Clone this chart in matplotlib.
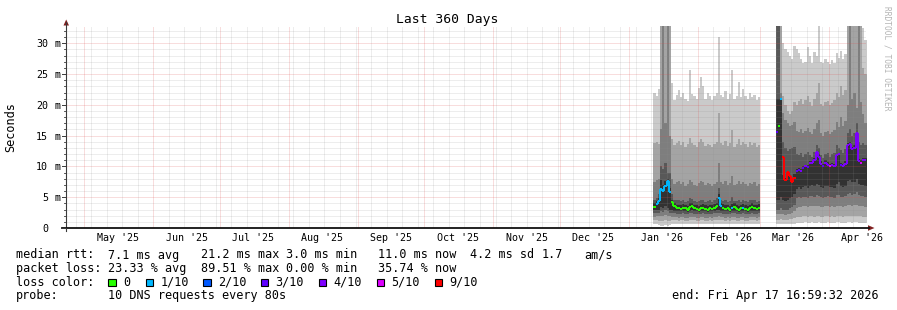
import matplotlib
matplotlib.use("Agg")
import matplotlib.pyplot as plt
import matplotlib.dates as mdates
import matplotlib.transforms as mtrans
from matplotlib.lines import Line2D
from matplotlib.patches import Polygon, Rectangle
from datetime import datetime, timedelta

# ---------------- data ----------------
t_start = datetime(2025, 4, 22, 16, 59, 32)
t_end = datetime(2026, 4, 17, 16, 59, 32)
y_max = 32.8  # ms

month_labels = ["May '25", "Jun '25", "Jul '25", "Aug '25", "Sep '25", "Oct '25",
                "Nov '25", "Dec '25", "Jan '26", "Feb '26", "Mar '26", "Apr '26"]
y_ticks = [0, 5, 10, 15, 20, 25, 30]

loss_keys = [0, 1, 2, 3, 4, 5, 9]
loss_labels = ["0", "1/10", "2/10", "3/10", "4/10", "5/10", "9/10"]
loss_colors = ["#26ff00", "#00b8ff", "#0059ff", "#5e00ff", "#7e00ff", "#dd00ff", "#ff0000"]

# block 1: daily values from 2026-01-12 to 2026-02-28 (ms)
b1_start = datetime(2026, 1, 12)
b1_median = [3.4, 3.9, 4.4, 6.4, 6.0, 6.9, 7.6, 5.8, 4.2, 3.6,
             3.3, 3.2, 3.1, 3.3, 3.2, 3.0, 3.4, 3.6, 3.2, 3.1,
             3.0, 3.2, 3.3, 3.1, 3.0, 3.2, 3.1, 3.3, 3.6, 4.8,
             3.5, 3.3, 3.1, 3.2, 3.0, 3.3, 3.4, 3.1, 3.0, 3.2,
             3.3, 3.1, 3.0, 3.2, 3.4, 3.2, 3.1, 3.3]
b1_loss = [0, 1, 1, 1, 1, 1, 1, 1, 0, 0,
           0, 0, 0, 0, 0, 0, 0, 0, 0, 0,
           0, 0, 0, 0, 0, 0, 0, 0, 0, 1,
           1, 0, 0, 0, 0, 1, 0, 0, 0, 0,
           1, 0, 0, 0, 0, 0, 0, 0]
b1_ping10 = [22.0, 21.5, 22.5, 40, 40, 40, 40, 40, 23.5, 20.8,
             21.6, 22.4, 21.2, 22.0, 21.0, 20.6, 25.6, 21.8, 21.4, 20.9,
             22.8, 24.5, 23.0, 21.0, 22.0, 21.4, 20.8, 21.5, 22.0, 31.0,
             21.6, 21.2, 22.3, 21.0, 21.8, 25.6, 20.9, 21.4, 23.7, 21.2,
             22.5, 21.4, 21.0, 22.0, 21.2, 21.6, 20.8, 21.2]
b1_ping9 = [13.8, 14.0, 13.6, 40, 40, 40, 40, 40, 14.5, 13.4,
            13.8, 14.2, 13.5, 13.9, 13.2, 13.6, 14.6, 13.8, 13.4, 13.2,
            13.9, 14.4, 14.0, 13.3, 13.7, 13.5, 13.1, 13.6, 14.0, 18.6,
            13.8, 13.4, 14.1, 13.3, 13.8, 15.9, 13.2, 13.6, 14.4, 13.5,
            14.0, 13.6, 13.2, 13.9, 13.4, 13.8, 13.1, 13.4]
b1_ping8 = [7.5, 7.8, 8.0, 16.0, 40, 17.0, 40, 15.0, 8.0, 7.2,
            7.4, 7.6, 7.1, 7.5, 6.9, 7.2, 7.8, 7.4, 7.0, 6.9,
            7.3, 7.7, 7.5, 7.0, 7.3, 7.1, 6.8, 7.2, 7.5, 10.5,
            7.4, 7.1, 7.6, 7.0, 7.3, 8.5, 7.0, 7.2, 7.6, 7.1,
            7.4, 7.2, 6.9, 7.3, 7.1, 7.4, 6.9, 7.1]
b1_ping7 = [4.6, 4.8, 5.5, 10.0, 9.5, 10.5, 9.0, 9.0, 5.5, 4.6,
            4.5, 4.6, 4.4, 4.6, 4.3, 4.4, 4.8, 4.7, 4.4, 4.3,
            4.4, 4.6, 4.6, 4.3, 4.4, 4.5, 4.3, 4.5, 4.8, 6.5,
            4.6, 4.4, 4.5, 4.3, 4.4, 5.0, 4.4, 4.4, 4.6, 4.3,
            4.6, 4.4, 4.3, 4.5, 4.6, 4.5, 4.3, 4.4]
b1_ping6 = [4.0, 4.4, 4.8, 7.8, 7.0, 7.6, 8.0, 6.5, 4.6, 4.0,
            3.8, 3.8, 3.7, 3.9, 3.7, 3.6, 4.0, 4.1, 3.8, 3.7,
            3.6, 3.8, 3.9, 3.7, 3.6, 3.8, 3.7, 3.9, 4.1, 5.5,
            4.0, 3.9, 3.7, 3.8, 3.6, 3.9, 4.0, 3.7, 3.6, 3.8,
            3.9, 3.7, 3.6, 3.8, 4.0, 3.8, 3.7, 3.9]
b1_ping5 = [2.9, 3.0, 3.0, 3.4, 3.2, 3.6, 3.2, 3.0, 2.9, 2.8,
            2.8, 2.7, 2.7, 2.8, 2.7, 2.6, 2.8, 2.9, 2.7, 2.7,
            2.6, 2.7, 2.8, 2.7, 2.6, 2.7, 2.7, 2.8, 2.9, 3.0,
            2.8, 2.8, 2.7, 2.7, 2.6, 2.8, 2.8, 2.7, 2.6, 2.7,
            2.8, 2.7, 2.6, 2.7, 2.8, 2.7, 2.7, 2.8]
b1_ping4 = [2.4, 2.5, 2.5, 2.8, 2.6, 2.9, 2.7, 2.5, 2.4, 2.4,
            2.3, 2.3, 2.3, 2.4, 2.3, 2.2, 2.4, 2.4, 2.3, 2.3,
            2.2, 2.3, 2.4, 2.3, 2.2, 2.3, 2.3, 2.4, 2.4, 2.5,
            2.4, 2.3, 2.3, 2.3, 2.2, 2.4, 2.4, 2.3, 2.2, 2.3,
            2.4, 2.3, 2.2, 2.3, 2.4, 2.3, 2.3, 2.4]
b1_ping3 = [1.8, 1.9, 1.9, 2.0, 1.9, 2.1, 2.0, 1.9, 1.8, 1.8,
            1.8, 1.7, 1.8, 1.8, 1.7, 1.7, 1.8, 1.8, 1.8, 1.7,
            1.7, 1.8, 1.8, 1.7, 1.7, 1.8, 1.7, 1.8, 1.8, 1.9,
            1.8, 1.8, 1.7, 1.8, 1.7, 1.8, 1.8, 1.7, 1.7, 1.8,
            1.8, 1.7, 1.7, 1.8, 1.8, 1.8, 1.7, 1.8]
b1_ping2 = [1.3, 1.3, 1.2, 1.2, 1.1, 1.3, 1.2, 1.2, 1.3, 1.3,
            1.3, 1.2, 1.3, 1.3, 1.2, 1.2, 1.3, 1.3, 1.3, 1.2,
            1.2, 1.3, 1.3, 1.2, 1.2, 1.3, 1.2, 1.3, 1.3, 1.3,
            1.3, 1.3, 1.2, 1.3, 1.2, 1.3, 1.3, 1.2, 1.2, 1.3,
            1.3, 1.2, 1.2, 1.3, 1.3, 1.3, 1.2, 1.3]
b1_ping1 = [0.6, 0.6, 0.5, 0.4, 0.4, 0.5, 0.4, 0.5, 0.6, 0.6,
            0.7, 0.6, 0.6, 0.7, 0.6, 0.6, 0.7, 0.6, 0.6, 0.6,
            0.6, 0.7, 0.6, 0.6, 0.6, 0.7, 0.6, 0.6, 0.7, 0.6,
            0.6, 0.7, 0.6, 0.6, 0.6, 0.7, 0.6, 0.6, 0.6, 0.7,
            0.6, 0.6, 0.7, 0.6, 0.6, 0.7, 0.6, 0.6]

# block 2: daily values from 2026-03-08 to 2026-04-17 (ms)
b2_start = datetime(2026, 3, 8)
b2_median = [15.6, 16.6, 21.0, 11.5, 7.8, 9.1, 8.4, 7.5, 8.2, 9.3,
             9.4, 9.2, 9.8, 10.0, 9.9, 10.5, 10.6, 11.0, 12.3, 11.6,
             10.4, 10.1, 10.6, 10.3, 10.0, 10.2, 10.0, 11.8, 12.0, 10.2,
             10.0, 10.4, 13.5, 13.6, 12.8, 13.0, 15.4, 10.8, 10.6, 11.0,
             11.0]
b2_loss = [3, 0, 1, 9, 9, 9, 9, 9, 9, 3,
           3, 4, 3, 4, 3, 4, 4, 4, 4, 4,
           4, 3, 4, 4, 5, 4, 4, 4, 4, 3,
           4, 4, 4, 4, 4, 4, 4, 4, 5, 4,
           4]
b2_ping10 = [40, 40, 40, 30.0, 29.0, 28.5, 28.0, 27.5, 29.5, 29.0,
             28.4, 27.4, 26.8, 27.0, 29.4, 28.0, 26.8, 28.6, 28.0, 40,
             27.0, 26.8, 27.4, 27.0, 26.6, 27.2, 26.8, 28.4, 27.6, 28.8,
             27.4, 28.2, 40, 40, 40, 40, 40, 40, 40, 32.5,
             30.5]
b2_ping9 = [40, 40, 40, 21.5, 20.0, 19.0, 18.5, 19.0, 20.5, 20.0,
            20.6, 21.0, 20.2, 20.8, 21.4, 20.4, 19.8, 21.0, 22.0, 23.5,
            20.2, 19.8, 20.4, 20.6, 19.9, 20.3, 20.8, 22.0, 21.2, 23.0,
            21.6, 22.4, 40, 40, 40, 40, 40, 40, 40, 26.0,
            25.0]
b2_ping8 = [40, 40, 22.0, 18.6, 17.5, 17.0, 16.5, 16.8, 17.2, 15.8,
            15.6, 16.0, 15.4, 15.8, 16.2, 15.6, 15.2, 16.0, 17.0, 17.5,
            15.4, 15.0, 15.6, 15.8, 15.2, 15.6, 15.9, 17.2, 16.4, 18.0,
            16.6, 17.4, 20.0, 40, 21.0, 22.0, 19.5, 40, 20.5, 18.5,
            17.0]
b2_ping7 = [40, 40, 21.0, 14.0, 13.0, 12.5, 12.8, 13.0, 13.2, 12.0,
            11.8, 12.2, 11.6, 12.0, 12.4, 11.8, 11.6, 12.4, 13.5, 13.0,
            11.8, 11.4, 12.0, 12.2, 11.6, 12.0, 12.2, 13.4, 13.0, 12.6,
            12.2, 12.8, 15.5, 16.0, 15.0, 15.5, 17.0, 14.0, 13.5, 13.8,
            13.5]
b2_ping6 = [21.0, 21.0, 21.0, 8.6, 8.2, 8.4, 8.6, 8.2, 8.8, 9.6,
            9.8, 9.6, 10.0, 10.3, 10.2, 10.8, 10.9, 11.3, 12.5, 12.0,
            10.8, 10.4, 11.0, 10.7, 10.4, 10.6, 10.4, 12.0, 12.2, 10.6,
            10.4, 10.8, 13.8, 14.0, 13.2, 13.4, 15.6, 11.2, 11.0, 11.4,
            11.4]
b2_ping5 = [4.5, 4.5, 5.0, 4.6, 4.4, 4.5, 4.8, 5.0, 5.5, 6.4,
            6.6, 6.4, 6.7, 6.8, 6.5, 6.9, 7.0, 6.8, 7.2, 7.0,
            6.6, 6.5, 6.8, 6.9, 6.6, 6.7, 6.5, 7.2, 7.4, 6.8,
            6.6, 6.9, 7.6, 7.8, 7.4, 7.5, 8.0, 7.2, 7.0, 7.0,
            6.9]
b2_ping4 = [3.0, 3.0, 3.2, 3.0, 2.9, 3.0, 3.2, 3.4, 3.8, 4.8,
            5.0, 4.9, 5.0, 5.1, 4.9, 5.2, 5.2, 5.0, 5.3, 5.2,
            5.0, 4.9, 5.1, 5.2, 5.0, 5.0, 4.9, 5.3, 5.4, 5.1,
            5.0, 5.2, 5.6, 5.7, 5.4, 5.5, 5.8, 5.3, 5.2, 5.2,
            5.1]
b2_ping3 = [2.2, 2.2, 2.3, 2.2, 2.1, 2.2, 2.3, 2.4, 2.7, 3.3,
            3.4, 3.4, 3.5, 3.5, 3.4, 3.6, 3.6, 3.5, 3.6, 3.5,
            3.4, 3.4, 3.5, 3.5, 3.4, 3.5, 3.4, 3.6, 3.6, 3.5,
            3.4, 3.5, 3.7, 3.8, 3.6, 3.7, 3.8, 3.5, 3.5, 3.5,
            3.4]
b2_ping2 = [1.3, 1.3, 1.4, 1.3, 1.3, 1.3, 1.4, 1.5, 1.6, 1.8,
            1.8, 1.8, 1.9, 1.9, 1.8, 1.9, 1.9, 1.8, 1.9, 1.9,
            1.8, 1.8, 1.9, 1.9, 1.8, 1.9, 1.8, 1.9, 2.0, 1.9,
            1.8, 1.9, 2.0, 2.0, 1.9, 2.0, 2.0, 1.9, 1.9, 1.8,
            1.8]
b2_ping1 = [0.6, 0.6, 0.6, 0.6, 0.6, 0.6, 0.6, 0.7, 0.7, 0.8,
            0.8, 0.8, 0.8, 0.9, 0.8, 0.8, 0.9, 0.8, 0.8, 0.9,
            0.8, 0.8, 0.8, 0.9, 0.8, 0.8, 0.8, 0.9, 0.9, 0.8,
            0.8, 0.8, 0.9, 0.9, 0.8, 0.9, 0.9, 0.8, 0.8, 0.8,
            0.8]

legend_rtt = ["median rtt:", "7.1 ms avg", "21.2 ms max", "3.0 ms min",
              "11.0 ms now", "4.2 ms sd", "1.7", "am/s"]
legend_loss = ["packet loss:", "23.33 % avg", "89.51 % max", "0.00 % min", "35.74 % now"]
legend_probe = ["probe:", "10 DNS requests every 80s"]
end_text = "end: Fri Apr 17 16:59:32 2026"

# ---------------- figure ----------------
W, H = 897, 310
MONO = "DejaVu Sans Mono"
fig = plt.figure(figsize=(W / 100, H / 100), dpi=100)
fig.patch.set_facecolor("white")
PL, PR, PB, PT = 66, 866, 228, 26


def fx(x):
    return x / W


def fy(y):
    return 1 - y / H


ax = fig.add_axes([fx(PL), fy(PB), (PR - PL) / W, (PB - PT) / H])
x0 = mdates.date2num(t_start)
x1 = mdates.date2num(t_end)
ax.set_xlim(x0, x1)
ax.set_ylim(0, y_max)
ax.axis("off")

smoke_colors = ["#cacaca", "#a4a4a4", "#7e7e7e", "#585858", "#323232"]
lc_map = dict(zip(loss_keys, loss_colors))


def draw_block(start, pings, median, loss):
    n = len(median)
    xs = [mdates.date2num(start + timedelta(days=i)) for i in range(n + 1)]
    for k in range(5):
        lo = list(pings[k]) + [pings[k][-1]]
        hi = list(pings[9 - k]) + [pings[9 - k][-1]]
        ax.fill_between(xs, lo, hi, step="post", color=smoke_colors[k],
                        linewidth=0, zorder=1)
    for i in range(n):
        c = lc_map[loss[i]]
        ax.plot([xs[i], xs[i + 1]], [median[i], median[i]], color=c, lw=1.4,
                solid_capstyle="butt", zorder=3)
        if i > 0 and loss[i] == loss[i - 1]:
            ax.plot([xs[i], xs[i]], [median[i - 1], median[i]], color=c, lw=1.4,
                    solid_capstyle="butt", zorder=3)


draw_block(b1_start, [b1_ping1, b1_ping2, b1_ping3, b1_ping4, b1_ping5,
                      b1_ping6, b1_ping7, b1_ping8, b1_ping9, b1_ping10],
           b1_median, b1_loss)
draw_block(b2_start, [b2_ping1, b2_ping2, b2_ping3, b2_ping4, b2_ping5,
                      b2_ping6, b2_ping7, b2_ping8, b2_ping9, b2_ping10],
           b2_median, b2_loss)

# ---------------- grid ----------------
GRID = (0.56, 0.56, 0.56, 0.32)
MGRID = (0.87, 0.31, 0.31, 0.38)
dots = (0, (1, 1))

month_starts = []
d = datetime(2025, 5, 1)
while d < t_end:
    month_starts.append(d)
    d = datetime(d.year + (d.month // 12), d.month % 12 + 1, 1)
ms_nums = [mdates.date2num(m) for m in month_starts]

weeks = []
d = datetime(2025, 4, 27)
while d < t_end:
    if d.day != 1:
        weeks.append(mdates.date2num(d))
    d += timedelta(days=7)

ax.vlines(weeks, 0, y_max, colors=[GRID], linestyles=[dots], lw=0.72, zorder=2)
minor_y = [v for v in range(1, 33) if v % 5 != 0]
ax.hlines(minor_y, x0, x1, colors=[GRID], linestyles=[dots], lw=0.72, zorder=2)
ax.vlines(ms_nums, 0, y_max, colors=[MGRID], linestyles=[dots], lw=0.72, zorder=2.1)
ax.hlines([v for v in y_ticks if v > 0], x0, x1, colors=[MGRID], linestyles=[dots],
          lw=0.72, zorder=2.1)

# ---------------- axes, arrows ----------------
fig.add_artist(Line2D([fx(PL), fx(PL)], [fy(231), fy(22)], color="#3a3a3a", lw=0.8))
fig.add_artist(Line2D([fx(62), fx(869)], [fy(PB), fy(PB)], color="#111111", lw=1.3))
fig.add_artist(Polygon([[fx(63.5), fy(25.5)], [fx(69), fy(25.5)], [fx(66.2), fy(19.5)]],
                       closed=True, color="#801f1f", lw=0))
fig.add_artist(Polygon([[fx(868), fy(225.2)], [fx(868), fy(230.8)], [fx(874.5), fy(228)]],
                       closed=True, color="#801f1f", lw=0))
scale = (PB - PT) / y_max
for v in range(0, 33):
    yy = PB - v * scale
    if v % 5 == 0:
        fig.add_artist(Line2D([fx(62), fx(PL)], [fy(yy), fy(yy)], color="#3a3a3a", lw=0.7))
    else:
        fig.add_artist(Line2D([fx(64), fx(PL)], [fy(yy), fy(yy)], color="#3a3a3a", lw=0.6))

# ---------------- text ----------------
fig.text(fx(447.5), fy(19.5), "Last 360 Days", ha="center", va="center",
         fontsize=9.4, family=MONO, color="black")
fig.text(fx(11), fy(127), "Seconds", rotation=90, ha="center", va="center",
         fontsize=8.6, family=MONO, color="black")
for v in y_ticks:
    yy = PB - v * scale
    fig.text(fx(48), fy(yy), str(v), ha="right", va="center_baseline",
             fontsize=7.2, family=MONO)
    if v > 0:
        fig.text(fx(54.3), fy(yy), "m", ha="left", va="center_baseline",
                 fontsize=7.2, family=MONO)

blend = mtrans.blended_transform_factory(ax.transData, fig.transFigure)
for i, lab in enumerate(month_labels):
    m = month_starts[i]
    ax.text(mdates.date2num(datetime(m.year, m.month, 16)), fy(238), lab,
            transform=blend, ha="center", va="center", fontsize=7.2, family=MONO,
            clip_on=False)

LF = 8.45
CW = 7.1  # px per character column


def col(c):
    return 16 + c * CW


row_specs = [
    (255, legend_rtt, [0, 13, 26, 38, 51, 64, 74, 80]),
    (268.5, legend_loss, [0, 13, 26, 38, 51]),
    (296, legend_probe, [0, 13]),
]
for yy, items, cols in row_specs:
    for s, c in zip(items, cols):
        fig.text(fx(col(c)), fy(yy), s, ha="left", va="center", fontsize=LF, family=MONO)
fig.text(fx(16), fy(282), "loss color:", ha="left", va="center", fontsize=LF, family=MONO)

box_x = [108.3, 145.7, 203.3, 261, 319, 376.7, 435]
for bx, lab, colr in zip(box_x, loss_labels, loss_colors):
    fig.add_artist(Rectangle((fx(bx), fy(286)), 7.3 / W, 7.3 / H, facecolor=colr,
                             edgecolor="black", lw=0.8))
    fig.text(fx(bx + 14.5), fy(282), lab, ha="left", va="center", fontsize=LF, family=MONO)

fig.text(fx(879), fy(296), end_text, ha="right", va="center", fontsize=LF, family=MONO)
fig.text(fx(886.5), fy(58), "RRDTOOL / TOBI OETIKER", rotation=270, ha="center",
         va="center", fontsize=5.7, family=MONO, color="#b4b4b4")

fig.savefig("out.png", dpi=100, facecolor="white")
